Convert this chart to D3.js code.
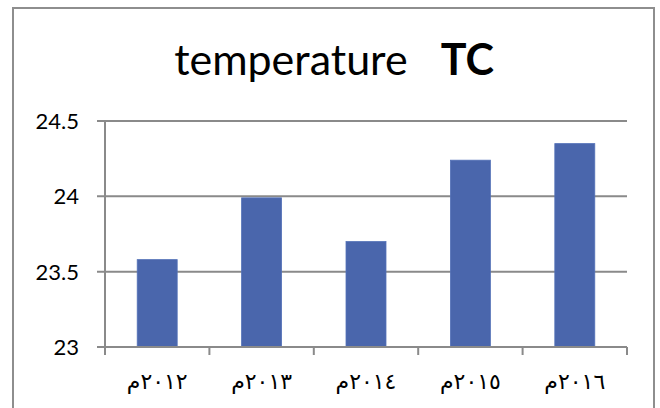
<!DOCTYPE html>
<html><head><meta charset="utf-8">
<script src="https://cdn.jsdelivr.net/npm/d3@7"></script>
<style>body{margin:0;background:#fff}svg{display:block}</style>
</head><body>
<svg id="c" width="660" height="408"></svg>
<script>
const categories = ["٢٠١٢م","٢٠١٣م","٢٠١٤م","٢٠١٥م","٢٠١٦م"];
const values = [23.58, 23.99, 23.70, 24.24, 24.35];
const yTicks = [23, 23.5, 24, 24.5];
const yTickLabels = ["23","23.5","24","24.5"];
const titleMain = "temperature";
const titleBold = "TC";

(function(){
const svg = d3.select("#c");
svg.append("rect").attr("x",13).attr("y",8).attr("width",641).attr("height",420)
  .attr("fill","#fff").attr("stroke","#8e8e8e").attr("stroke-width",2);

const pL = 105, pR = 627, pT = 121, pB = 347;
const x = d3.scaleBand().domain(categories).range([pL,pR]).paddingInner(0.617).paddingOuter(0.3085);
const xb = d3.scaleBand().domain(categories).range([pL,pR]);
const y = d3.scaleLinear().domain([23,24.5]).range([pB,pT]);

const grid = "#8a8a8a";
svg.append("g").selectAll("line").data(yTicks).join("line")
  .attr("x1",pL-8).attr("x2",pR).attr("y1",d=>y(d)).attr("y2",d=>y(d))
  .attr("stroke",grid).attr("stroke-width",2);

svg.append("g").selectAll("rect").data(values).join("rect")
  .attr("x",(d,i)=>x(categories[i])).attr("width",x.bandwidth())
  .attr("y",d=>y(d)).attr("height",d=>y(23)-y(d))
  .attr("fill","#4A66AC").attr("stroke","#5472b8").attr("stroke-width",0.8);

svg.append("line").attr("x1",pL).attr("x2",pL).attr("y1",pT).attr("y2",pB+8)
  .attr("stroke",grid).attr("stroke-width",2);
svg.append("line").attr("x1",pL-8).attr("x2",pR).attr("y1",pB).attr("y2",pB)
  .attr("stroke",grid).attr("stroke-width",2);
const bounds = categories.map(c=>xb(c)).concat([pR]);
svg.append("g").selectAll("line").data(bounds).join("line")
  .attr("x1",d=>d).attr("x2",d=>d).attr("y1",pB).attr("y2",pB+8)
  .attr("stroke",grid).attr("stroke-width",2);

svg.append("g").selectAll("text").data(yTicks).join("text")
  .attr("x",79).attr("y",d=>y(d)).attr("dy","0.36em").attr("text-anchor","end")
  .attr("font-family","Lato, 'Open Sans', sans-serif").attr("font-size",22).attr("fill","#000")
  .text((d,i)=>yTickLabels[i]);

svg.append("g").selectAll("text").data(categories).join("text")
  .attr("x",d=>xb(d)+xb.bandwidth()/2).attr("y",389).attr("text-anchor","middle")
  .attr("font-family","'DejaVu Sans', sans-serif").attr("font-size",22)
  .attr("fill","#000")
  .text(d=>d);

const t = svg.append("text").attr("x",334).attr("y",75).attr("text-anchor","middle")
  .attr("font-family","Lato, 'Open Sans', sans-serif").attr("font-size",43).attr("fill","#000");
t.append("tspan").text(titleMain + "\u00a0\u00a0\u00a0");
t.append("tspan").attr("font-weight","bold").text(titleBold);
})();
</script>
</body></html>
